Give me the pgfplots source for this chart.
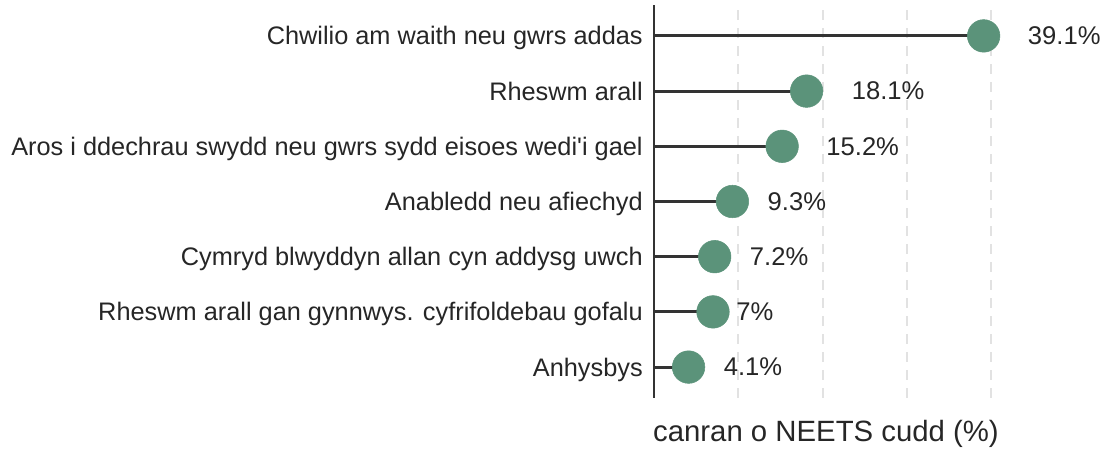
\documentclass[border=0pt]{standalone}
\usepackage{fontspec}
\setmainfont{Liberation Sans}
\usepackage{pgfplots}
\pgfplotsset{compat=1.18}
\usepackage{pgfplotstable}
\definecolor{dotgreen}{HTML}{5B937A}
\definecolor{stem}{HTML}{333333}
\definecolor{gridc}{HTML}{E2E2E2}
\definecolor{txt}{HTML}{262626}

\pgfplotstableread{
y x shift
6 39.1 33
5 18.1 33.75
4 15.2 33
3 9.3 26.25
2 7.2 26.25
1 7 17.25
0 4.1 26.25
}\datatab

\begin{document}
\begin{tikzpicture}
\begin{axis}[
  at={(0,0)}, anchor=south west,
  scale only axis,
  width=258pt, height=294.75pt,
  xmin=0, xmax=40.8,
  ymin=-0.56, ymax=6.56,
  axis line style={draw=none},
  xtick={10,20,30,40}, xticklabels={},
  xmajorgrids,
  grid style={gridc, line width=1.5pt, dash pattern=on 7.5pt off 6pt},
  major tick length=0pt,
  /pgf/number format/assume math mode=true,
  ytick={0,1,2,3,4,5,6},
  yticklabels={Anhysbys,
    Rheswm arall gan gynnwys. cyfrifoldebau gofalu,
    Cymryd blwyddyn allan cyn addysg uwch,
    Anabledd neu afiechyd,
    Aros i ddechrau swydd neu gwrs sydd eisoes wedi\textquotesingle i gael,
    Rheswm arall,
    Chwilio am waith neu gwrs addas},
  yticklabel style={font=\fontsize{19pt}{22pt}\selectfont, text=txt, anchor=base east, inner sep=0pt, xshift=-8.25pt, yshift=-6.8pt},
  xlabel={canran o NEETS cudd (\%)},
  xlabel style={font=\fontsize{22pt}{26pt}\selectfont, text=txt, at={(axis description cs:0.5,0)}, anchor=base, inner sep=0pt, yshift=-33pt},
  clip=false,
]
\draw[stem, line width=1.5pt] (rel axis cs:0,0) -- (rel axis cs:0,1);
\addplot[xcomb, stem, line width=2.25pt] table[x=x, y=y] {\datatab};
\addplot[only marks, dotgreen, mark=*, mark size=12.2pt, mark options={fill=dotgreen, draw=dotgreen},
  point meta=x,
  visualization depends on={\thisrow{shift} \as \myshift},
  nodes near coords={\pgfmathprintnumber{\pgfplotspointmeta}\%},
  nodes near coords style={font=\fontsize{19.2pt}{22pt}\selectfont, text=txt, anchor=west, inner sep=0pt, xshift=\myshift pt, yshift=0pt},
] table[x=x, y=y] {\datatab};
\end{axis}
\pgfresetboundingbox
\path[use as bounding box] (-490.5pt,-38.25pt) rectangle (341.25pt,298.5pt);
\end{tikzpicture}
\end{document}
